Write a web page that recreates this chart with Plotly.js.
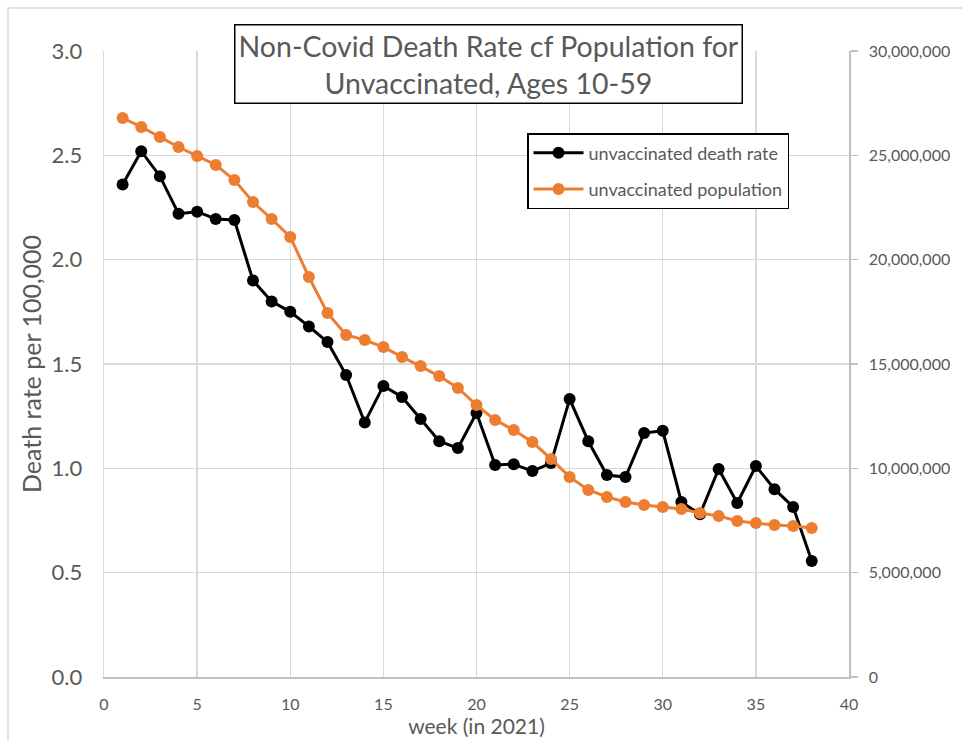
<!DOCTYPE html>
<html>
<head>
<meta charset="utf-8">
<script src="https://cdn.plot.ly/plotly-3.0.1.min.js"></script>
<style>html,body{margin:0;padding:0;background:#fff;}#chart{width:962px;height:740px;}</style>
</head>
<body>
<div id="chart"></div>
<script>
const weeks = [1,2,3,4,5,6,7,8,9,10,11,12,13,14,15,16,17,18,19,20,21,22,23,24,25,26,27,28,29,30,31,32,33,34,35,36,37,38];
const deathRate = [2.36,2.52,2.40,2.22,2.23,2.195,2.19,1.90,1.80,1.75,1.68,1.605,1.447,1.22,1.395,1.342,1.236,1.13,1.097,1.265,1.016,1.02,0.987,1.025,1.332,1.13,0.968,0.958,1.169,1.18,0.839,0.78,0.997,0.834,1.011,0.90,0.815,0.556];
const population = [26790000,26360000,25880000,25400000,24970000,24540000,23820000,22760000,21950000,21090000,19170000,17440000,16390000,16150000,15810000,15340000,14900000,14420000,13850000,13030000,12320000,11840000,11260000,10450000,9590000,8960000,8630000,8390000,8240000,8150000,8050000,7860000,7720000,7480000,7380000,7280000,7240000,7140000];
const leftTicks = [0,0.5,1,1.5,2,2.5,3];
const leftTickText = ["0.0","0.5","1.0","1.5","2.0","2.5","3.0"];
const rightTicks = [0,5000000,10000000,15000000,20000000,25000000,30000000];
const rightTickText = ["0","5,000,000","10,000,000","15,000,000","20,000,000","25,000,000","30,000,000"];
const xTicks = [0,5,10,15,20,25,30,35,40];

const FONT = "Lato, 'Open Sans', sans-serif";
const GREY = "#595959";

const L=104, R=849, T=51, B=677;
const px = v => (v-L)/(R-L);
const py = v => (B-v)/(B-T);

const traces = [
  {x: weeks, y: deathRate, name: "unvaccinated death rate", type: "scatter", mode: "lines+markers",
   line: {color: "#000000", width: 3}, marker: {color: "#000000", size: 12}, yaxis: "y", legendgroup: "a"},
  {x: weeks, y: population, name: "unvaccinated population", type: "scatter", mode: "lines+markers",
   line: {color: "#ED7D31", width: 3}, marker: {color: "#ED7D31", size: 12}, yaxis: "y2", legendgroup: "b"}
];

const layout = {
  width: 962, height: 740,
  margin: {l: L, r: 962-R, t: T, b: 740-B},
  paper_bgcolor: "#ffffff", plot_bgcolor: "#ffffff",
  font: {family: FONT, color: GREY},
  showlegend: true,
  legend: {x: px(527), y: py(133), xanchor: "left", yanchor: "top",
    bordercolor: "#000000", borderwidth: 1.5, bgcolor: "#ffffff", itemwidth: 50,
    font: {family: FONT, size: 18, color: GREY}, tracegroupgap: 10, traceorder: "grouped"},
  xaxis: {range: [0, 40], tickvals: xTicks, ticktext: xTicks.map(String),
    showgrid: true, gridcolor: "#d9d9d9", gridwidth: 1.3, zeroline: false,
    showline: true, linecolor: "#bfbfbf", linewidth: 1.5, ticks: "", ticklabelstandoff: 12,
    tickfont: {family: FONT, size: 16, color: GREY},
    title: {text: "week (in 2021)", font: {family: FONT, size: 21, color: GREY}, standoff: 0}},
  yaxis: {range: [0, 3], tickvals: leftTicks, ticktext: leftTickText,
    showgrid: true, gridcolor: "#d9d9d9", gridwidth: 1.3, zeroline: false,
    showline: true, linecolor: "#d9d9d9", linewidth: 1.3, ticks: "", ticklabelstandoff: 16,
    tickfont: {family: FONT, size: 22, color: GREY},
    title: {text: "Death rate per 100,000", font: {family: FONT, size: 25, color: GREY}, standoff: 2}},
  yaxis2: {range: [0, 30000000], tickvals: rightTicks, ticktext: rightTickText,
    overlaying: "y", side: "right", showgrid: false, zeroline: false,
    showline: true, linecolor: "#bfbfbf", linewidth: 1.5, ticks: "outside", ticklen: 7, tickcolor: "#bfbfbf", tickwidth: 1.5,
    ticklabelstandoff: 8,
    tickfont: {family: FONT, size: 16, color: GREY}},
  shapes: [
    {type: "rect", xref: "paper", yref: "paper", x0: px(8), x1: px(975), y0: py(8), y1: py(760),
     line: {color: "#d9d9d9", width: 1.5}, fillcolor: "rgba(0,0,0,0)", layer: "below"}
  ],
  annotations: [
    {xref: "paper", yref: "paper", x: px(488), y: py(63.5), xanchor: "center", yanchor: "middle",
     text: "Non-Covid Death Rate cf Population for<br>Unvaccinated, Ages 10-59", showarrow: false,
     font: {family: FONT, size: 28.5, color: GREY}, align: "center",
     bordercolor: "#000000", borderwidth: 1.5, borderpad: 3, bgcolor: "#ffffff"}
  ]
};

Plotly.newPlot("chart", traces, layout, {displayModeBar: false, staticPlot: true});
</script>
</body>
</html>
